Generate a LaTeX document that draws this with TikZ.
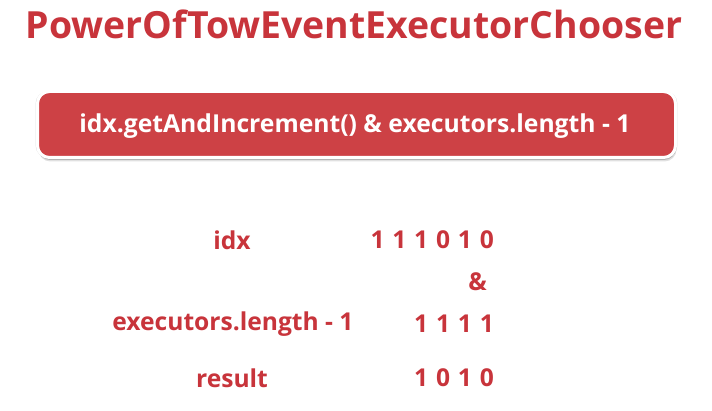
\documentclass[tikz,border=0pt]{standalone}
\usepackage{fontspec}
\setmainfont{Open Sans}
\usetikzlibrary{shadows}
\definecolor{tred}{HTML}{C8343B}
\definecolor{bred}{HTML}{CD4145}
\newcommand{\bits}[1]{\def\bitsep{}\bitsloop#1\relax}
\def\bitsloop#1{\ifx#1\relax\else\bitsep#1\def\bitsep{\hspace{7.8pt}}\expandafter\bitsloop\fi}
\begin{document}
\begin{tikzpicture}[x=1pt,y=-1pt,
  lbl/.style={text=tred,font=\bfseries\fontsize{24.6}{28}\selectfont,inner sep=0pt},
  num/.style={lbl,anchor=east}]
\useasboundingbox[fill=white] (0,0) rectangle (712,411);
\node[text=tred,font=\bfseries\fontsize{37.4}{44}\selectfont,inner sep=0pt] (title) at (354,24) {PowerOfTowEventExecutorChooser};
\path[draw=white,line width=3pt,fill=bred,rounded corners=12pt,
  drop shadow={shadow xshift=0pt,shadow yshift=0pt,shadow scale=1.006,opacity=0.12,fill=black},
  drop shadow={shadow xshift=1pt,shadow yshift=-4pt,opacity=0.12,fill=black},
  drop shadow={shadow xshift=0.5pt,shadow yshift=-2.5pt,opacity=0.2,fill=black}]
  (37.5,91.5) rectangle (675.5,157.5);
\node[text=white,font=\bfseries\fontsize{24.7}{28}\selectfont,inner sep=0pt] (expr) at (355,126) {idx.getAndIncrement() \& executors.length - 1};
\node[lbl] (l1) at (232,240) {idx};
\node[num] (v1) at (494,240) {\bits{111010}};
\node[num] (amp) at (487,282) {\&};
\node[lbl] (l2) at (233,324) {executors.length - 1};
\node[num] (v2) at (494,324) {\bits{1111}};
\node[lbl] (l3) at (232,378) {result};
\node[num] (v3) at (494,378) {\bits{1010}};
\end{tikzpicture}
\end{document}
